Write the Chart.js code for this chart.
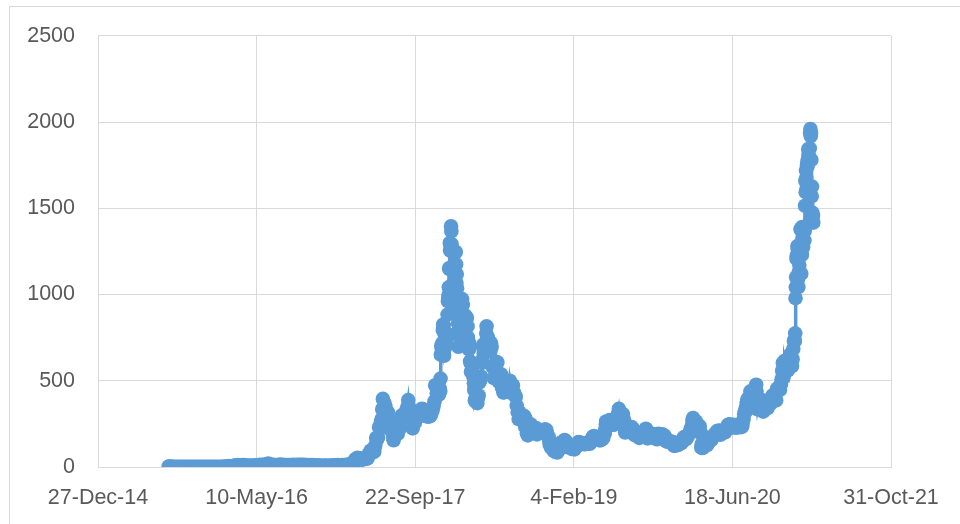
<!DOCTYPE html>
<html>
<head>
<meta charset="utf-8">
<script src="https://cdn.jsdelivr.net/npm/chart.js@4/dist/chart.umd.min.js"></script>
<style>
  html, body { margin: 0; padding: 0; background: #ffffff; }
  #wrap { width: 960px; height: 524px; }
</style>
</head>
<body>
<div id="wrap"><canvas id="c" width="960" height="524"></canvas></div>
<script>
// Ethereum closing price (USD), grouped by year: [date, close]
const eth2015 = [["2015-08-07",2.77],["2015-08-08",0.75],["2015-08-10",0.71],["2015-08-14",1.75],["2015-08-18",1.21],["2015-08-21",1.38],["2015-08-28",1.19],["2015-09-04",1.26],["2015-09-11",0.99],["2015-09-18",0.87],["2015-09-25",0.74],["2015-10-02",0.68],["2015-10-09",0.63],["2015-10-16",0.52],["2015-10-23",0.57],["2015-10-30",1.05],["2015-11-06",0.93],["2015-11-13",0.90],["2015-11-20",0.93],["2015-11-27",0.87],["2015-12-04",0.83],["2015-12-11",0.85],["2015-12-18",0.87],["2015-12-25",0.86]];

const eth2016 = [["2016-01-01",0.95],["2016-01-08",0.97],["2016-01-15",1.21],["2016-01-22",1.53],["2016-01-29",2.35],["2016-02-05",2.55],["2016-02-12",5.24],["2016-02-19",4.32],["2016-02-26",6.04],["2016-03-04",9.51],["2016-03-11",11.25],["2016-03-18",10.49],["2016-03-25",10.81],["2016-04-01",11.47],["2016-04-08",9.01],["2016-04-15",8.23],["2016-04-22",7.52],["2016-04-29",7.83],["2016-05-06",9.33],["2016-05-13",10.03],["2016-05-20",13.43],["2016-05-27",11.07],["2016-06-03",13.86],["2016-06-10",14.84],["2016-06-16",20.61],["2016-06-18",11.26],["2016-06-24",13.44],["2016-07-01",12.43],["2016-07-08",10.92],["2016-07-15",11.89],["2016-07-22",14.49],["2016-07-29",12.73],["2016-08-05",10.70],["2016-08-12",11.80],["2016-08-19",11.29],["2016-08-26",11.33],["2016-09-02",12.06],["2016-09-09",12.03],["2016-09-16",12.79],["2016-09-23",13.24],["2016-09-30",13.22],["2016-10-07",12.08],["2016-10-14",11.91],["2016-10-21",11.99],["2016-10-28",11.21],["2016-11-04",11.11],["2016-11-11",10.23],["2016-11-18",9.58],["2016-11-25",8.23],["2016-12-02",7.62],["2016-12-09",8.43],["2016-12-16",7.83],["2016-12-23",7.21],["2016-12-30",8.17]];

const eth2017 = [["2017-01-06",10.16],["2017-01-13",9.83],["2017-01-20",10.63],["2017-01-27",10.50],["2017-02-03",11.33],["2017-02-10",11.43],["2017-02-17",12.84],["2017-02-24",13.18],["2017-03-03",19.24],["2017-03-10",19.15],["2017-03-14",28.66],["2017-03-17",44.13],["2017-03-21",42.65],["2017-03-24",53.28],["2017-03-28",49.53],["2017-03-31",49.94],["2017-04-04",44.49],["2017-04-07",42.42],["2017-04-11",43.73],["2017-04-14",49.19],["2017-04-18",50.00],["2017-04-21",47.89],["2017-04-25",50.39],["2017-04-28",72.52],["2017-05-02",77.54],["2017-05-05",95.82],["2017-05-09",86.82],["2017-05-12",85.68],["2017-05-16",89.07],["2017-05-19",123.21],["2017-05-22",168.42],["2017-05-25",160.94],["2017-05-28",172.86],["2017-05-31",230.48],["2017-06-03",224.14],["2017-06-06",262.55],["2017-06-09",280.07],["2017-06-10",335.2],["2017-06-12",395],["2017-06-14",344],["2017-06-17",371],["2017-06-20",352],["2017-06-22",320],["2017-06-24",304],["2017-06-26",253],["2017-06-28",317],["2017-07-01",272],["2017-07-04",269],["2017-07-07",240],["2017-07-10",206],["2017-07-13",205],["2017-07-15",169],["2017-07-16",155],["2017-07-18",231],["2017-07-20",226],["2017-07-23",228],["2017-07-26",202],["2017-07-29",193],["2017-08-01",225],["2017-08-04",222],["2017-08-07",269],["2017-08-10",298],["2017-08-13",294],["2017-08-16",301],["2017-08-19",293],["2017-08-22",314],["2017-08-25",330],["2017-08-28",347],["2017-08-31",388],["2017-09-02",348],["2017-09-04",295],["2017-09-06",334],["2017-09-09",299],["2017-09-12",292],["2017-09-14",224],["2017-09-15",259],["2017-09-18",294],["2017-09-21",257],["2017-09-24",283],["2017-09-27",309],["2017-10-01",303],["2017-10-05",312],["2017-10-09",297],["2017-10-12",306],["2017-10-13",338],["2017-10-16",334],["2017-10-20",303],["2017-10-24",297],["2017-10-28",296],["2017-11-01",291],["2017-11-04",300],["2017-11-07",294],["2017-11-10",299],["2017-11-13",316],["2017-11-16",331],["2017-11-19",354],["2017-11-22",380],["2017-11-24",474],["2017-11-26",471],["2017-11-28",471],["2017-11-29",428],["2017-12-01",466],["2017-12-04",470],["2017-12-06",420],["2017-12-08",456],["2017-12-10",441],["2017-12-11",513],["2017-12-12",651],["2017-12-13",702],["2017-12-15",684],["2017-12-17",720],["2017-12-18",794],["2017-12-19",826],["2017-12-21",821],["2017-12-22",645],["2017-12-23",681],["2017-12-25",762],["2017-12-27",760],["2017-12-28",712],["2017-12-30",712],["2017-12-31",756]];

const eth2018 = [["2018-01-01",772],["2018-01-02",884],["2018-01-03",962],["2018-01-04",980],["2018-01-05",997],["2018-01-06",1042],["2018-01-07",1153],["2018-01-08",1148],["2018-01-09",1299],["2018-01-10",1255],["2018-01-11",1154],["2018-01-12",1273],["2018-01-13",1396],["2018-01-14",1366],["2018-01-15",1292],["2018-01-16",1054],["2018-01-17",1014],["2018-01-18",1036],["2018-01-19",1039],["2018-01-20",1155],["2018-01-21",1050],["2018-01-22",1000],["2018-01-23",987],["2018-01-24",1058],["2018-01-26",1053],["2018-01-27",1107],["2018-01-28",1247],["2018-01-29",1175],["2018-01-30",1067],["2018-01-31",1119],["2018-02-01",1037],["2018-02-02",917],["2018-02-03",965],["2018-02-04",834],["2018-02-05",697],["2018-02-06",793],["2018-02-07",757],["2018-02-08",818],["2018-02-09",883],["2018-02-11",815],["2018-02-13",840],["2018-02-14",921],["2018-02-16",942],["2018-02-17",974],["2018-02-19",942],["2018-02-21",849],["2018-02-22",811],["2018-02-24",833],["2018-02-27",878],["2018-03-01",870],["2018-03-04",865],["2018-03-06",815],["2018-03-07",751],["2018-03-08",700],["2018-03-10",682],["2018-03-11",720],["2018-03-13",690],["2018-03-14",613],["2018-03-16",601],["2018-03-17",552],["2018-03-19",555],["2018-03-21",559],["2018-03-23",538],["2018-03-25",522],["2018-03-26",486],["2018-03-27",448],["2018-03-29",385],["2018-03-31",397],["2018-04-01",379],["2018-04-03",416],["2018-04-04",380],["2018-04-06",370],["2018-04-08",400],["2018-04-10",415],["2018-04-12",490],["2018-04-14",500],["2018-04-16",511],["2018-04-18",524],["2018-04-20",616],["2018-04-22",606],["2018-04-24",708],["2018-04-26",660],["2018-04-28",683],["2018-04-30",670],["2018-05-02",673],["2018-05-04",776],["2018-05-05",816],["2018-05-07",752],["2018-05-09",753],["2018-05-11",680],["2018-05-13",732],["2018-05-15",708],["2018-05-17",669],["2018-05-19",716],["2018-05-21",697],["2018-05-23",583],["2018-05-25",587],["2018-05-28",515],["2018-05-30",565],["2018-06-01",580],["2018-06-04",592],["2018-06-06",608],["2018-06-08",606],["2018-06-10",524],["2018-06-12",496],["2018-06-14",519],["2018-06-17",499],["2018-06-20",537],["2018-06-22",466],["2018-06-24",456],["2018-06-27",432],["2018-06-29",434],["2018-07-02",475],["2018-07-05",467],["2018-07-08",491],["2018-07-11",438],["2018-07-14",434],["2018-07-17",500],["2018-07-20",462],["2018-07-24",478],["2018-07-27",473],["2018-07-30",433],["2018-08-02",418],["2018-08-05",408],["2018-08-08",356],["2018-08-11",318],["2018-08-14",278],["2018-08-17",316],["2018-08-20",275],["2018-08-23",276],["2018-08-26",275],["2018-08-29",294],["2018-09-01",295],["2018-09-04",285],["2018-09-06",228],["2018-09-09",196],["2018-09-12",183],["2018-09-15",220],["2018-09-18",209],["2018-09-21",247],["2018-09-24",229],["2018-09-27",229],["2018-10-01",230],["2018-10-05",226],["2018-10-09",225],["2018-10-11",189],["2018-10-14",197],["2018-10-18",205],["2018-10-22",203],["2018-10-26",203],["2018-10-30",197],["2018-11-03",205],["2018-11-06",218],["2018-11-10",213],["2018-11-14",181],["2018-11-17",174],["2018-11-19",149],["2018-11-20",131],["2018-11-22",126],["2018-11-24",113],["2018-11-26",113],["2018-11-28",123],["2018-11-30",113],["2018-12-03",93],["2018-12-06",91],["2018-12-09",93],["2018-12-12",88],["2018-12-14",84],["2018-12-17",95],["2018-12-19",102],["2018-12-20",116],["2018-12-22",116],["2018-12-24",140],["2018-12-26",131],["2018-12-28",138],["2018-12-31",133]];

const eth2019 = [["2019-01-03",149],["2019-01-06",157],["2019-01-09",151],["2019-01-10",125],["2019-01-13",116],["2019-01-16",122],["2019-01-19",124],["2019-01-22",118],["2019-01-25",115],["2019-01-28",105],["2019-01-31",107],["2019-02-03",107],["2019-02-06",102],["2019-02-09",118],["2019-02-12",120],["2019-02-15",122],["2019-02-18",143],["2019-02-21",145],["2019-02-24",136],["2019-02-27",136],["2019-03-02",134],["2019-03-05",138],["2019-03-08",134],["2019-03-11",132],["2019-03-14",134],["2019-03-17",139],["2019-03-20",139],["2019-03-23",137],["2019-03-26",135],["2019-03-29",143],["2019-04-02",164],["2019-04-05",174],["2019-04-08",180],["2019-04-11",164],["2019-04-14",167],["2019-04-17",168],["2019-04-20",173],["2019-04-23",171],["2019-04-26",155],["2019-04-29",155],["2019-05-02",160],["2019-05-05",162],["2019-05-08",170],["2019-05-11",194],["2019-05-13",197],["2019-05-14",217],["2019-05-16",248],["2019-05-17",264],["2019-05-19",261],["2019-05-22",245],["2019-05-25",250],["2019-05-28",272],["2019-05-30",268],["2019-06-02",265],["2019-06-05",247],["2019-06-08",245],["2019-06-11",246],["2019-06-14",255],["2019-06-17",270],["2019-06-20",270],["2019-06-23",308],["2019-06-26",337],["2019-06-28",310],["2019-06-30",290],["2019-07-03",295],["2019-07-06",288],["2019-07-09",307],["2019-07-12",275],["2019-07-14",230],["2019-07-16",200],["2019-07-18",225],["2019-07-21",220],["2019-07-24",213],["2019-07-27",206],["2019-07-30",211],["2019-08-02",217],["2019-08-05",232],["2019-08-08",224],["2019-08-11",216],["2019-08-14",187],["2019-08-17",185],["2019-08-20",196],["2019-08-23",194],["2019-08-26",187],["2019-08-29",169],["2019-09-01",172],["2019-09-04",174],["2019-09-07",178],["2019-09-10",180],["2019-09-13",180],["2019-09-16",197],["2019-09-19",222],["2019-09-21",215],["2019-09-24",166],["2019-09-27",174],["2019-09-30",181],["2019-10-03",175],["2019-10-06",171],["2019-10-09",193],["2019-10-12",180],["2019-10-15",180],["2019-10-18",172],["2019-10-21",174],["2019-10-24",161],["2019-10-26",180],["2019-10-29",193],["2019-11-01",182],["2019-11-04",186],["2019-11-07",186],["2019-11-10",189],["2019-11-13",185],["2019-11-16",183],["2019-11-19",175],["2019-11-22",150],["2019-11-25",147],["2019-11-28",151],["2019-12-01",151],["2019-12-04",146],["2019-12-07",148],["2019-12-10",145],["2019-12-13",144],["2019-12-16",132],["2019-12-17",122],["2019-12-19",128],["2019-12-22",133],["2019-12-25",125],["2019-12-28",128],["2019-12-31",129]];

const eth2020 = [["2020-01-03",134],["2020-01-06",144],["2020-01-09",138],["2020-01-12",146],["2020-01-15",166],["2020-01-18",174],["2020-01-21",167],["2020-01-24",162],["2020-01-27",170],["2020-01-30",184],["2020-02-02",190],["2020-02-05",204],["2020-02-08",223],["2020-02-11",237],["2020-02-13",268],["2020-02-15",284],["2020-02-17",267],["2020-02-19",259],["2020-02-21",265],["2020-02-24",265],["2020-02-26",225],["2020-02-28",226],["2020-03-02",231],["2020-03-05",228],["2020-03-07",237],["2020-03-09",200],["2020-03-11",195],["2020-03-12",112],["2020-03-13",133],["2020-03-15",124],["2020-03-16",110],["2020-03-18",118],["2020-03-20",132],["2020-03-23",135],["2020-03-26",138],["2020-03-29",125],["2020-04-01",133],["2020-04-04",144],["2020-04-07",164],["2020-04-10",158],["2020-04-13",157],["2020-04-16",172],["2020-04-19",180],["2020-04-22",183],["2020-04-25",194],["2020-04-28",197],["2020-04-30",207],["2020-05-03",210],["2020-05-06",204],["2020-05-09",212],["2020-05-11",187],["2020-05-14",202],["2020-05-17",207],["2020-05-20",208],["2020-05-23",209],["2020-05-26",201],["2020-05-29",220],["2020-06-01",231],["2020-06-04",244],["2020-06-07",244],["2020-06-10",247],["2020-06-13",238],["2020-06-16",235],["2020-06-19",229],["2020-06-22",244],["2020-06-25",233],["2020-06-28",230],["2020-07-01",230],["2020-07-04",229],["2020-07-07",240],["2020-07-10",242],["2020-07-13",238],["2020-07-16",231],["2020-07-19",236],["2020-07-21",263],["2020-07-23",275],["2020-07-25",306],["2020-07-27",324],["2020-07-29",318],["2020-07-31",345],["2020-08-02",372],["2020-08-04",389],["2020-08-06",396],["2020-08-08",395],["2020-08-10",395],["2020-08-12",387],["2020-08-14",439],["2020-08-16",433],["2020-08-18",423],["2020-08-20",416],["2020-08-22",394],["2020-08-24",408],["2020-08-26",386],["2020-08-28",396],["2020-08-30",428],["2020-09-01",477],["2020-09-02",440],["2020-09-03",385],["2020-09-05",335],["2020-09-07",353],["2020-09-09",352],["2020-09-11",374],["2020-09-13",365],["2020-09-15",364],["2020-09-17",389],["2020-09-19",384],["2020-09-21",341],["2020-09-23",321],["2020-09-25",351],["2020-09-27",357],["2020-09-29",359],["2020-10-01",353],["2020-10-04",353],["2020-10-07",341],["2020-10-10",370],["2020-10-13",381],["2020-10-16",366],["2020-10-19",379],["2020-10-22",414],["2020-10-25",406],["2020-10-28",388],["2020-10-31",386],["2020-11-03",387],["2020-11-06",454],["2020-11-09",444],["2020-11-12",463],["2020-11-15",447],["2020-11-18",479],["2020-11-20",509],["2020-11-22",558],["2020-11-24",604],["2020-11-26",519],["2020-11-28",538],["2020-11-30",616],["2020-12-02",598],["2020-12-04",571],["2020-12-06",601],["2020-12-08",574],["2020-12-10",560],["2020-12-12",586],["2020-12-14",587],["2020-12-16",637],["2020-12-18",655],["2020-12-20",639],["2020-12-22",612],["2020-12-23",585],["2020-12-25",626],["2020-12-27",685],["2020-12-29",731],["2020-12-31",737]];

const eth2021 = [["2021-01-01",730],["2021-01-02",775],["2021-01-03",979],["2021-01-04",1042],["2021-01-05",1100],["2021-01-06",1208],["2021-01-07",1225],["2021-01-08",1224],["2021-01-09",1281],["2021-01-10",1262],["2021-01-11",1090],["2021-01-12",1044],["2021-01-13",1130],["2021-01-14",1218],["2021-01-15",1171],["2021-01-16",1233],["2021-01-17",1230],["2021-01-18",1257],["2021-01-19",1377],["2021-01-20",1382],["2021-01-21",1121],["2021-01-22",1236],["2021-01-23",1230],["2021-01-24",1392],["2021-01-25",1325],["2021-01-26",1364],["2021-01-27",1276],["2021-01-28",1383],["2021-01-29",1382],["2021-01-30",1376],["2021-01-31",1314],["2021-02-01",1369],["2021-02-02",1515],["2021-02-03",1660],["2021-02-04",1594],["2021-02-05",1719],["2021-02-06",1677],["2021-02-07",1614],["2021-02-08",1747],["2021-02-09",1768],["2021-02-10",1744],["2021-02-11",1783],["2021-02-12",1843],["2021-02-13",1814],["2021-02-14",1800],["2021-02-15",1779],["2021-02-16",1781],["2021-02-17",1848],["2021-02-18",1937],["2021-02-19",1960],["2021-02-20",1919],["2021-02-21",1935],["2021-02-22",1781],["2021-02-23",1570],["2021-02-24",1626],["2021-02-25",1475],["2021-02-26",1446],["2021-02-27",1459],["2021-02-28",1417]];

// Axis ranges: x uses spreadsheet date serials (42000 = 27-Dec-14), 500-day steps
const xMin = 42000, xMax = 44500, xStep = 500;
const yMin = 0, yMax = 2500, yStep = 500;

const MONTHS = ["Jan","Feb","Mar","Apr","May","Jun","Jul","Aug","Sep","Oct","Nov","Dec"];
const EPOCH_SERIAL = 25569; // serial of 1-Jan-1970

function toSerial(iso) {
  const [y, m, d] = iso.split("-").map(Number);
  return Date.UTC(y, m - 1, d) / 86400000 + EPOCH_SERIAL;
}
function serialLabel(s) {
  const dt = new Date((s - EPOCH_SERIAL) * 86400000);
  return dt.getUTCDate() + "-" + MONTHS[dt.getUTCMonth()] + "-" + String(dt.getUTCFullYear()).slice(2);
}

const series = [].concat(eth2015, eth2016, eth2017, eth2018, eth2019, eth2020, eth2021)
  .map(([d, v]) => ({ x: toSerial(d), y: v }));

const BLUE = "#5B9BD5";
const GRID = "#D9D9D9";
const TEXT = "#595959";
const FONT = { family: "'Liberation Sans', Arial, sans-serif", size: 21.5 };

// light outer chart frame
const framePlugin = {
  id: "frame",
  beforeDraw(chart) {
    const ctx = chart.ctx;
    ctx.save();
    ctx.fillStyle = "#ffffff";
    ctx.fillRect(0, 0, chart.width, chart.height);
    ctx.strokeStyle = GRID;
    ctx.lineWidth = 1;
    ctx.strokeRect(9.5, 6.5, chart.width + 20, chart.height + 20);
    ctx.restore();
  }
};

new Chart(document.getElementById("c"), {
  type: "scatter",
  data: {
    datasets: [{
      data: series,
      showLine: true,
      borderColor: BLUE,
      backgroundColor: BLUE,
      borderWidth: 3.5,
      pointRadius: 7.3,
      pointHoverRadius: 7.3,
      pointBorderWidth: 0,
      pointBackgroundColor: BLUE,
      pointBorderColor: BLUE,
      tension: 0
    }]
  },
  options: {
    responsive: false,
    animation: false,
    devicePixelRatio: 1,
    layout: { padding: { left: 10, right: 69, top: 35, bottom: 5 } },
    plugins: { legend: { display: false }, tooltip: { enabled: false } },
    scales: {
      x: {
        type: "linear",
        min: xMin, max: xMax,
        ticks: {
          stepSize: xStep,
          callback: v => serialLabel(v),
          color: TEXT, font: FONT, padding: 18,
          maxRotation: 0, autoSkip: false
        },
        grid: { color: GRID, lineWidth: 1, drawTicks: false },
        border: { color: GRID, width: 1 },
        afterFit: s => { s.height = 52; }
      },
      y: {
        min: yMin, max: yMax,
        ticks: { stepSize: yStep, callback: v => String(v), color: TEXT, font: FONT, padding: 23 },
        grid: { color: GRID, lineWidth: 1, drawTicks: false },
        border: { color: GRID, width: 1 },
        afterFit: s => { s.width = 88; }
      }
    }
  },
  plugins: [framePlugin]
});
</script>
</body>
</html>
